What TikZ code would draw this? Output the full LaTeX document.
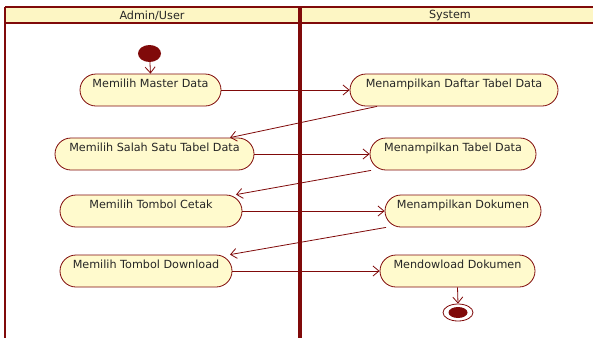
\documentclass[tikz,border=0pt]{standalone}
\usepackage{fontspec}
\setmainfont{DejaVu Sans}
\usetikzlibrary{shapes.misc,shapes.geometric,arrows.meta}
\definecolor{umlred}{RGB}{128,10,10}
\definecolor{hdrfill}{RGB}{253,246,196}
\definecolor{actfill}{RGB}{255,250,205}
\tikzset{
  act/.style={rounded rectangle, draw=umlred, line width=0.8pt, fill=actfill,
    minimum height=32pt, inner sep=0pt, text height=8pt, text depth=14pt,
    font=\fontsize{11.2}{12}\selectfont, text=black!85},
  flow/.style={draw=umlred, line width=0.8pt, -{Straight Barb[length=6pt,width=10pt]}},
  hdr/.style={font=\fontsize{11.2}{12}\selectfont, text=black!85},
}
\begin{document}
\begin{tikzpicture}[x=1pt,y=-1pt]
\useasboundingbox (0,0) rectangle (593,338);
\fill[white] (0,0) rectangle (593,338);
% header band
\fill[hdrfill] (5,7) rectangle (593,23);
\draw[umlred, line width=1.8pt] (5,7) -- (593,7);
\draw[umlred, line width=1.8pt] (5,23) -- (593,23);
\draw[umlred, line width=1.8pt] (5,7) -- (5,338);
\draw[umlred, line width=3.5pt] (300,7) -- (300,338);
\node[hdr] (h1) at (152,16) {Admin/User};
\node[hdr] (h2) at (450,16) {System};
% start / end
\node[ellipse, fill=umlred, minimum width=23pt, minimum height=17pt, inner sep=0pt] (start) at (149.5,53.5) {};
\node[ellipse, draw=umlred, line width=0.8pt, fill=white, minimum width=30pt, minimum height=17pt, inner sep=0pt] (end) at (458,312.5) {};
\node[ellipse, fill=umlred, minimum width=19pt, minimum height=11pt, inner sep=0pt] (endin) at (458,312.5) {};
% activities
\node[act, minimum width=141pt] (a1) at (150.5,90) {Memilih Master Data};
\node[act, minimum width=208pt] (b1) at (454,90) {Menampilkan Daftar Tabel Data};
\node[act, minimum width=199pt] (a2) at (154.5,154) {Memilih Salah Satu Tabel Data};
\node[act, minimum width=166pt] (b2) at (453,154) {Menampilkan Tabel Data};
\node[act, minimum width=182pt] (a3) at (151,211) {Memilih Tombol Cetak};
\node[act, minimum width=156pt] (b3) at (463,211) {Menampilkan Dokumen};
\node[act, minimum width=172pt] (a4) at (146,271) {Memilih Tombol Download};
\node[act, minimum width=155pt] (b4) at (457.5,271) {Mendowload Dokumen};
% flows
\draw[flow] (start) -- (a1.north);
\draw[flow] (a1.east) -- (b1.west);
\draw[flow] ([xshift=-77pt]b1.south) -- ([xshift=75.5pt]a2.north);
\draw[flow] (a2.east) -- (b2.west);
\draw[flow] ([xshift=-82pt]b2.south) -- ([xshift=85pt]a3.north);
\draw[flow] (a3.east) -- (b3.west);
\draw[flow] ([xshift=-77pt]b3.south) -- ([xshift=84pt]a4.north);
\draw[flow] (a4.east) -- (b4.west);
\draw[flow] (b4.south) -- (end.north);
\end{tikzpicture}
\end{document}
